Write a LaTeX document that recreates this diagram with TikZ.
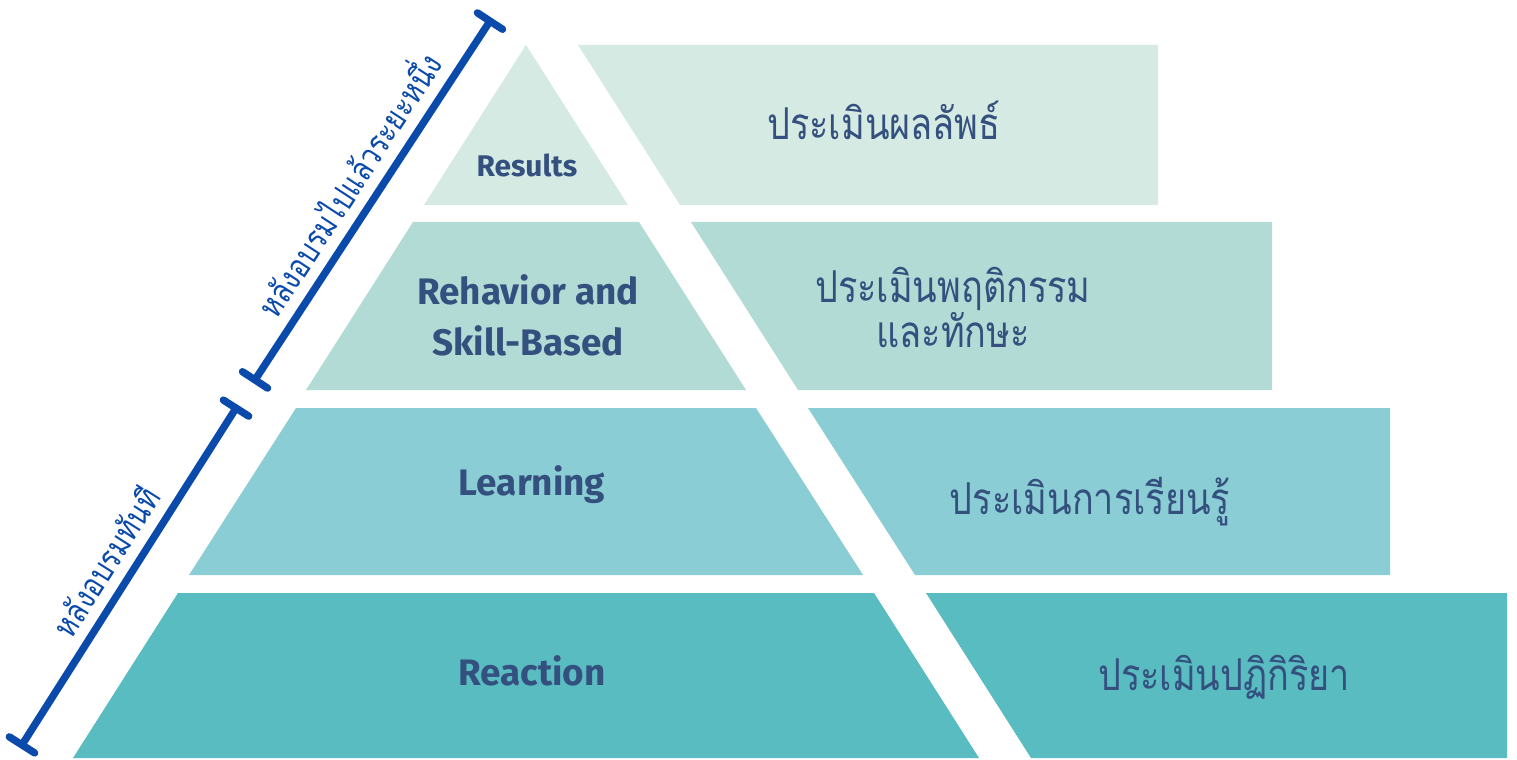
\documentclass[tikz,border=0pt]{standalone}
\usepackage{fontspec}
\setmainfont{Fira Sans}
\newfontfamily\thaifont[Script=Thai,FakeStretch=0.82]{Loma}
\usepackage{tikz}
\usetikzlibrary{arrows.meta,calc}
\definecolor{resfill}{HTML}{D5EAE3}
\definecolor{behfill}{HTML}{B1DBD4}
\definecolor{lrnfill}{HTML}{8BCDD4}
\definecolor{reafill}{HTML}{59BCC1}
\definecolor{txtblue}{HTML}{34507E}
\definecolor{barblue}{HTML}{0A4AAB}
\tikzset{
  lvlname/.style={text=txtblue,font=\fontsize{21}{29}\selectfont\bfseries,align=center},
  lvlthai/.style={text=txtblue,font=\thaifont\fontsize{25}{24}\selectfont,align=center},
  spanbar/.style={draw=barblue,line width=4.2pt,line cap=round,{Bar[width=0.6cm,round]}-{Bar[width=0.6cm,round]}},
  spantext/.style={text=barblue,font=\thaifont\fontsize{19}{20}\selectfont,sloped,above,inner sep=6pt}
}
\begin{document}
\begin{tikzpicture}[x=0.02cm,y=-0.02cm]
	\useasboundingbox (0,0) rectangle (1517,760);
		% pyramid levels, top to bottom
		\fill[resfill] (526,45) -- (628,205) -- (424,205) -- cycle;
		\fill[resfill] (578,45) -- (1158,45) -- (1158,205) -- (680,205) -- cycle;
		\fill[behfill] (413,222) -- (639,222) -- (746,390) -- (306,390) -- cycle;
		\fill[behfill] (691,222) -- (1272,222) -- (1272,390) -- (798,390) -- cycle;
		\fill[lrnfill] (296,408) -- (756,408) -- (863,575) -- (189,575) -- cycle;
		\fill[lrnfill] (808,408) -- (1390,408) -- (1390,575) -- (915,575) -- cycle;
		\fill[reafill] (178,593) -- (874,593) -- (979,758) -- (73,758) -- cycle;
		\fill[reafill] (926,593) -- (1507,593) -- (1507,758) -- (1031,758) -- cycle;
		% level names
		\node[lvlname,font=\fontsize{17}{20}\selectfont\bfseries] (results) at (527,165) {Results};
		\node[lvlname] (behavior) at (528,315) {Rehavior and\\Skill-Based};
		\node[lvlname] (learning) at (532,485) {Learning};
		\node[lvlname] (reaction) at (532,671) {Reaction};
		% thai captions
		\node[lvlthai] (resthai) at (884,120) {ประเมินผลลัพธ์};
		\node[lvlthai] (behthai) at (953,307) {ประเมินพฤติกรรม\\และทักษะ};
		\node[lvlthai] (lrnthai) at (1090,502) {ประเมินการเรียนรู้};
		\node[lvlthai] (reathai) at (1224,677) {ประเมินปฏิกิริยา};
		% time spans
		\coordinate (late top) at (492,18);
		\coordinate (late bot) at (253,383);
		\coordinate (now top) at (238,405);
		\coordinate (now bot) at (20,748);
		\draw[spanbar] (late bot) -- node[spantext] (latetext) {หลังอบรมไปแล้วระยะหนึ่ง} (late top);
		\draw[spanbar] (now bot) -- node[spantext] (nowtext) {หลังอบรมทันที} (now top);
\end{tikzpicture}
\end{document}
